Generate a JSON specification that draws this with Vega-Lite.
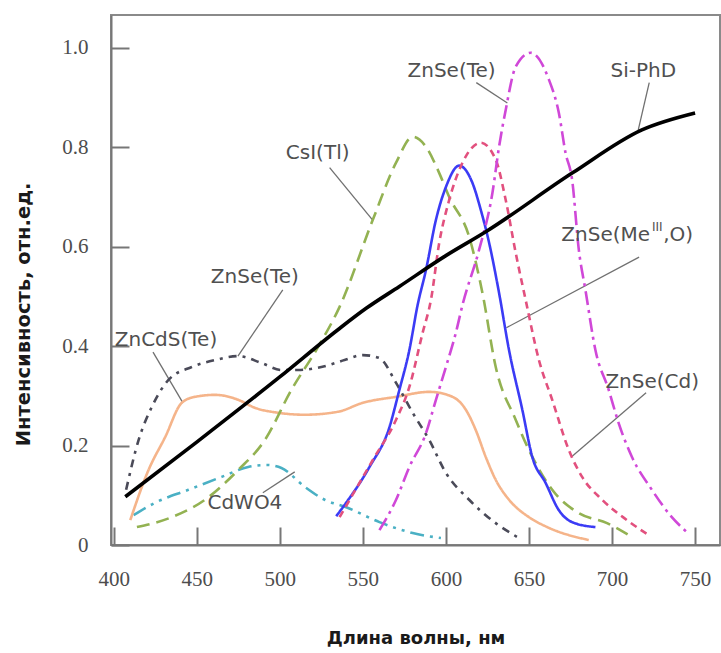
{
  "$schema": "https://vega.github.io/schema/vega-lite/v6.json",
  "width": 609,
  "height": 530,
  "autosize": {"type": "none"},
  "padding": {"left": 111, "top": 15, "right": 1, "bottom": 108},
  "background": "white",
  "config": {"view": {"stroke": "#8a8a8a", "strokeWidth": 2}},
  "datasets": {
    "curves": [
      {"s": "CdWO4", "x": 412, "y": 0.060}, {"s": "CdWO4", "x": 425, "y": 0.085}, {"s": "CdWO4", "x": 445, "y": 0.111}, {"s": "CdWO4", "x": 465, "y": 0.137}, {"s": "CdWO4", "x": 481, "y": 0.157}, {"s": "CdWO4", "x": 492, "y": 0.161}, {"s": "CdWO4", "x": 501, "y": 0.155}, {"s": "CdWO4", "x": 515, "y": 0.117}, {"s": "CdWO4", "x": 527, "y": 0.091}, {"s": "CdWO4", "x": 540, "y": 0.076}, {"s": "CdWO4", "x": 560, "y": 0.046}, {"s": "CdWO4", "x": 580, "y": 0.024}, {"s": "CdWO4", "x": 597, "y": 0.014},
      {"s": "ZnCdS", "x": 410, "y": 0.050}, {"s": "ZnCdS", "x": 421, "y": 0.151}, {"s": "ZnCdS", "x": 431, "y": 0.217}, {"s": "ZnCdS", "x": 441, "y": 0.286}, {"s": "ZnCdS", "x": 449, "y": 0.298}, {"s": "ZnCdS", "x": 461, "y": 0.302}, {"s": "ZnCdS", "x": 475, "y": 0.292}, {"s": "ZnCdS", "x": 485, "y": 0.276}, {"s": "ZnCdS", "x": 499, "y": 0.266}, {"s": "ZnCdS", "x": 515, "y": 0.262}, {"s": "ZnCdS", "x": 535, "y": 0.268}, {"s": "ZnCdS", "x": 550, "y": 0.286}, {"s": "ZnCdS", "x": 570, "y": 0.298}, {"s": "ZnCdS", "x": 590, "y": 0.308}, {"s": "ZnCdS", "x": 604, "y": 0.298}, {"s": "ZnCdS", "x": 612, "y": 0.272}, {"s": "ZnCdS", "x": 618, "y": 0.231}, {"s": "ZnCdS", "x": 624, "y": 0.177}, {"s": "ZnCdS", "x": 630, "y": 0.131}, {"s": "ZnCdS", "x": 638, "y": 0.091}, {"s": "ZnCdS", "x": 650, "y": 0.056}, {"s": "ZnCdS", "x": 661, "y": 0.036}, {"s": "ZnCdS", "x": 686, "y": 0.010},
      {"s": "TeG", "x": 407.5, "y": 0.111}, {"s": "TeG", "x": 415, "y": 0.211}, {"s": "TeG", "x": 423, "y": 0.278}, {"s": "TeG", "x": 433, "y": 0.332}, {"s": "TeG", "x": 447, "y": 0.358}, {"s": "TeG", "x": 461, "y": 0.372}, {"s": "TeG", "x": 475, "y": 0.380}, {"s": "TeG", "x": 489, "y": 0.366}, {"s": "TeG", "x": 501, "y": 0.352}, {"s": "TeG", "x": 511, "y": 0.352}, {"s": "TeG", "x": 525, "y": 0.358}, {"s": "TeG", "x": 539, "y": 0.372}, {"s": "TeG", "x": 550, "y": 0.382}, {"s": "TeG", "x": 560, "y": 0.376}, {"s": "TeG", "x": 570, "y": 0.326}, {"s": "TeG", "x": 580, "y": 0.266}, {"s": "TeG", "x": 590, "y": 0.211}, {"s": "TeG", "x": 600, "y": 0.145}, {"s": "TeG", "x": 614, "y": 0.091}, {"s": "TeG", "x": 630, "y": 0.044}, {"s": "TeG", "x": 643, "y": 0.016},
      {"s": "CsI", "x": 414, "y": 0.036}, {"s": "CsI", "x": 435, "y": 0.056}, {"s": "CsI", "x": 455, "y": 0.091}, {"s": "CsI", "x": 475, "y": 0.151}, {"s": "CsI", "x": 491, "y": 0.211}, {"s": "CsI", "x": 507, "y": 0.312}, {"s": "CsI", "x": 523, "y": 0.398}, {"s": "CsI", "x": 536, "y": 0.479}, {"s": "CsI", "x": 556, "y": 0.654}, {"s": "CsI", "x": 570, "y": 0.769}, {"s": "CsI", "x": 580, "y": 0.821}, {"s": "CsI", "x": 588, "y": 0.801}, {"s": "CsI", "x": 596, "y": 0.748}, {"s": "CsI", "x": 602, "y": 0.700}, {"s": "CsI", "x": 614, "y": 0.620}, {"s": "CsI", "x": 622, "y": 0.507}, {"s": "CsI", "x": 630, "y": 0.358}, {"s": "CsI", "x": 642, "y": 0.252}, {"s": "CsI", "x": 650, "y": 0.191}, {"s": "CsI", "x": 664, "y": 0.111}, {"s": "CsI", "x": 680, "y": 0.064}, {"s": "CsI", "x": 697, "y": 0.044}, {"s": "CsI", "x": 710, "y": 0.020},
      {"s": "Blue", "x": 534, "y": 0.058}, {"s": "Blue", "x": 538, "y": 0.076}, {"s": "Blue", "x": 554, "y": 0.157}, {"s": "Blue", "x": 566, "y": 0.237}, {"s": "Blue", "x": 572, "y": 0.312}, {"s": "Blue", "x": 578, "y": 0.392}, {"s": "Blue", "x": 583, "y": 0.483}, {"s": "Blue", "x": 588, "y": 0.553}, {"s": "Blue", "x": 594, "y": 0.654}, {"s": "Blue", "x": 600, "y": 0.720}, {"s": "Blue", "x": 608, "y": 0.763}, {"s": "Blue", "x": 616, "y": 0.728}, {"s": "Blue", "x": 621, "y": 0.674}, {"s": "Blue", "x": 626, "y": 0.608}, {"s": "Blue", "x": 632, "y": 0.507}, {"s": "Blue", "x": 638, "y": 0.392}, {"s": "Blue", "x": 646, "y": 0.272}, {"s": "Blue", "x": 652, "y": 0.177}, {"s": "Blue", "x": 660, "y": 0.125}, {"s": "Blue", "x": 668, "y": 0.070}, {"s": "Blue", "x": 676, "y": 0.046}, {"s": "Blue", "x": 690, "y": 0.036},
      {"s": "MeO", "x": 536, "y": 0.056}, {"s": "MeO", "x": 556, "y": 0.171}, {"s": "MeO", "x": 570, "y": 0.252}, {"s": "MeO", "x": 578, "y": 0.318}, {"s": "MeO", "x": 586, "y": 0.427}, {"s": "MeO", "x": 591, "y": 0.493}, {"s": "MeO", "x": 596, "y": 0.608}, {"s": "MeO", "x": 602, "y": 0.694}, {"s": "MeO", "x": 610, "y": 0.769}, {"s": "MeO", "x": 621, "y": 0.809}, {"s": "MeO", "x": 630, "y": 0.775}, {"s": "MeO", "x": 636, "y": 0.694}, {"s": "MeO", "x": 642, "y": 0.588}, {"s": "MeO", "x": 648, "y": 0.493}, {"s": "MeO", "x": 656, "y": 0.372}, {"s": "MeO", "x": 664, "y": 0.292}, {"s": "MeO", "x": 674, "y": 0.191}, {"s": "MeO", "x": 682, "y": 0.137}, {"s": "MeO", "x": 694, "y": 0.091}, {"s": "MeO", "x": 709, "y": 0.050}, {"s": "MeO", "x": 722, "y": 0.020},
      {"s": "TeM", "x": 560, "y": 0.030}, {"s": "TeM", "x": 570, "y": 0.091}, {"s": "TeM", "x": 578, "y": 0.157}, {"s": "TeM", "x": 588, "y": 0.225}, {"s": "TeM", "x": 594, "y": 0.292}, {"s": "TeM", "x": 600, "y": 0.358}, {"s": "TeM", "x": 606, "y": 0.427}, {"s": "TeM", "x": 610, "y": 0.483}, {"s": "TeM", "x": 620, "y": 0.594}, {"s": "TeM", "x": 628, "y": 0.708}, {"s": "TeM", "x": 632, "y": 0.801}, {"s": "TeM", "x": 636, "y": 0.875}, {"s": "TeM", "x": 642, "y": 0.962}, {"s": "TeM", "x": 651, "y": 0.990}, {"s": "TeM", "x": 662, "y": 0.936}, {"s": "TeM", "x": 668, "y": 0.869}, {"s": "TeM", "x": 672, "y": 0.789}, {"s": "TeM", "x": 676, "y": 0.734}, {"s": "TeM", "x": 680, "y": 0.594}, {"s": "TeM", "x": 684, "y": 0.513}, {"s": "TeM", "x": 690, "y": 0.392}, {"s": "TeM", "x": 698, "y": 0.312}, {"s": "TeM", "x": 704, "y": 0.245}, {"s": "TeM", "x": 712, "y": 0.177}, {"s": "TeM", "x": 724, "y": 0.111}, {"s": "TeM", "x": 736, "y": 0.056}, {"s": "TeM", "x": 745, "y": 0.026},
      {"s": "SiPhD", "x": 407, "y": 0.097}, {"s": "SiPhD", "x": 450, "y": 0.207}, {"s": "SiPhD", "x": 500, "y": 0.338}, {"s": "SiPhD", "x": 535, "y": 0.433}, {"s": "SiPhD", "x": 552, "y": 0.476}, {"s": "SiPhD", "x": 572, "y": 0.520}, {"s": "SiPhD", "x": 600, "y": 0.582}, {"s": "SiPhD", "x": 624, "y": 0.630}, {"s": "SiPhD", "x": 676, "y": 0.748}, {"s": "SiPhD", "x": 718, "y": 0.835}, {"s": "SiPhD", "x": 750, "y": 0.869}
    ],
    "labels": [
      {"t": "CsI(Tl)", "x": 522.8, "y": 0.789},
      {"t": "ZnSe(Te)", "x": 485.0, "y": 0.539},
      {"t": "ZnCdS(Te)", "x": 431.5, "y": 0.412},
      {"t": "CdWO4", "x": 479.0, "y": 0.0845},
      {"t": "ZnSe(Te)", "x": 603.4, "y": 0.954},
      {"t": "Si-PhD", "x": 718.8, "y": 0.954},
      {"t": "ZnSe(Cd)", "x": 724.2, "y": 0.328}
    ],
    "leftlabels": [
      {"t": "ZnSe(Me", "x": 669.5, "y": 0.624},
      {"t": ",O)", "x": 730.8, "y": 0.624}
    ],
    "sup": [
      {"t": "III", "x": 724.0, "y": 0.640}
    ],
    "leaders": [
      {"x": 530.0, "y": 0.759, "x2": 555.8, "y2": 0.654},
      {"x": 501.8, "y": 0.513, "x2": 474.8, "y2": 0.380},
      {"x": 423.7, "y": 0.388, "x2": 441.7, "y2": 0.286},
      {"x": 489.8, "y": 0.105, "x2": 509.0, "y2": 0.147},
      {"x": 618.3, "y": 0.930, "x2": 637.0, "y2": 0.889},
      {"x": 722.4, "y": 0.930, "x2": 715.8, "y2": 0.835},
      {"x": 716.3, "y": 0.579, "x2": 636.4, "y2": 0.437},
      {"x": 720.5, "y": 0.306, "x2": 675.5, "y2": 0.177}
    ]
  },
  "layer": [
    {
      "data": {"name": "leaders"},
      "mark": {"type": "rule", "color": "#707070", "strokeWidth": 1.3},
      "encoding": {
        "x": {"field": "x", "type": "quantitative"},
        "y": {"field": "y", "type": "quantitative"},
        "x2": {"field": "x2"},
        "y2": {"field": "y2"}
      }
    },
    {
      "data": {"name": "curves"},
      "transform": [{"filter": "datum.s != 'SiPhD'"}],
      "mark": {"type": "line", "interpolate": "monotone", "strokeWidth": 2.6},
      "encoding": {
        "x": {"field": "x", "type": "quantitative", "scale": {"domain": [398.4, 765], "nice": false, "zero": false},
          "axis": {"values": [400, 450, 500, 550, 600, 650, 700, 750], "tickSize": -18, "tickWidth": 2, "tickColor": "#777", "domainColor": "#777", "domainWidth": 2, "grid": false,
            "labelPadding": 41, "labelFont": "Liberation Serif", "labelFontSize": 21, "labelColor": "#4d4d4d",
            "title": "Длина волны, нм", "titleFont": "DejaVu Sans", "titleFontWeight": "bold", "titleFontSize": 18, "titleColor": "#1a1a1a", "titleY": 93, "titleBaseline": "middle"}},
        "y": {"field": "y", "type": "quantitative", "scale": {"domain": [0, 1.066], "nice": false},
          "axis": {"values": [0, 0.2, 0.4, 0.6, 0.8, 1.0], "tickSize": -18, "tickWidth": 2, "tickColor": "#777", "domainColor": "#777", "domainWidth": 2, "grid": false,
            "labelPadding": 41, "labelFont": "Liberation Serif", "labelFontSize": 21, "labelColor": "#4d4d4d",
            "labelExpr": "datum.value == 0 ? '0' : format(datum.value, '.1f')",
            "title": "Интенсивность, отн.ед.", "titleFont": "DejaVu Sans", "titleFontWeight": "bold", "titleFontSize": 19.5, "titleColor": "#1a1a1a", "titleX": -88, "titleY": 299, "titleAlign": "center", "titleBaseline": "middle"}},
        "color": {"field": "s", "type": "nominal", "legend": null,
          "scale": {"domain": ["CdWO4", "ZnCdS", "TeG", "CsI", "Blue", "MeO", "TeM"],
                    "range": ["#4ab0c4", "#f5b48a", "#4a4a58", "#93b252", "#3b3bf5", "#e2507e", "#d048d8"]}},
        "strokeDash": {"field": "s", "type": "nominal", "legend": null,
          "scale": {"domain": ["CdWO4", "ZnCdS", "TeG", "CsI", "Blue", "MeO", "TeM"],
                    "range": [[14, 6, 3, 6, 3, 6], [1, 0], [8, 6, 3, 6], [13, 7], [1, 0], [7, 5], [14, 5, 3, 5]]}}
      }
    },
    {
      "data": {"name": "curves"},
      "transform": [{"filter": "datum.s == 'SiPhD'"}],
      "mark": {"type": "line", "interpolate": "monotone", "strokeWidth": 3.6, "color": "#000000"},
      "encoding": {
        "x": {"field": "x", "type": "quantitative"},
        "y": {"field": "y", "type": "quantitative"}
      }
    },
    {
      "data": {"name": "labels"},
      "mark": {"type": "text", "font": "DejaVu Sans", "fontSize": 20, "color": "#505050", "baseline": "middle", "align": "center"},
      "encoding": {
        "x": {"field": "x", "type": "quantitative"},
        "y": {"field": "y", "type": "quantitative"},
        "text": {"field": "t"}
      }
    },
    {
      "data": {"name": "leftlabels"},
      "mark": {"type": "text", "font": "DejaVu Sans", "fontSize": 20, "color": "#505050", "baseline": "middle", "align": "left"},
      "encoding": {
        "x": {"field": "x", "type": "quantitative"},
        "y": {"field": "y", "type": "quantitative"},
        "text": {"field": "t"}
      }
    },
    {
      "data": {"name": "sup"},
      "mark": {"type": "text", "font": "DejaVu Sans", "fontSize": 12, "color": "#505050", "baseline": "middle", "align": "left"},
      "encoding": {
        "x": {"field": "x", "type": "quantitative"},
        "y": {"field": "y", "type": "quantitative"},
        "text": {"field": "t"}
      }
    }
  ]
}
